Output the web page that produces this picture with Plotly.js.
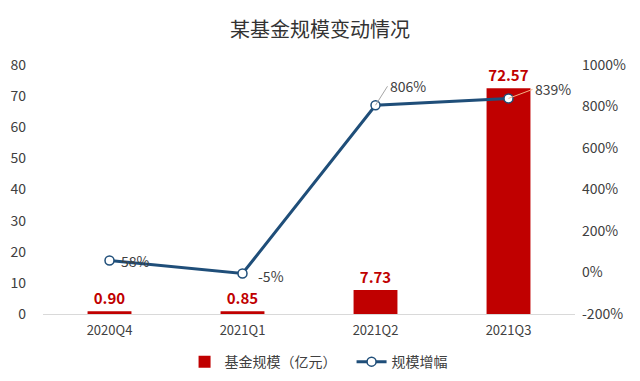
<!DOCTYPE html>
<html><head><meta charset="utf-8">
<script src="https://cdn.plot.ly/plotly-3.0.1.min.js"></script>
<style>body{margin:0;background:#fff}#c{width:640px;height:381px}</style>
</head><body><div id="c"></div>
<script>
const categories = ["2020Q4","2021Q1","2021Q2","2021Q3"];
const fundSize = [0.90, 0.85, 7.73, 72.57];
const fundSizeLabels = ["0.90","0.85","7.73","72.57"];
const growth = [58, -5, 806, 839];
const growthLabels = ["58%","-5%","806%","839%"];
const leftTicks = [0,10,20,30,40,50,60,70,80];
const rightTicks = [-200,0,200,400,600,800,1000];

const font = "'Microsoft YaHei','Noto Sans CJK SC','Noto Sans',sans-serif";

const bar = {
  type:'bar', name:'基金规模（亿元）', x:categories, y:fundSize,
  marker:{color:'#C00000'}, width:0.33,
  text:fundSizeLabels, textposition:'outside', cliponaxis:false,
  textfont:{color:'#C00000', size:15, family:font, weight:'bold'},
  hoverinfo:'none'
};
const line = {
  type:'scatter', mode:'lines+markers', name:'规模增幅', x:categories, y:growth, yaxis:'y2',
  line:{color:'#1F4E79', width:3},
  marker:{symbol:'circle', size:9, color:'#fff', line:{color:'#1F4E79', width:1.5}},
  cliponaxis:false, hoverinfo:'none'
};

const lblFont = {size:14, color:'#404040', family:font};
const layout = {
  width:640, height:381,
  margin:{l:43, r:65, t:65, b:67, autoexpand:false},
  paper_bgcolor:'#fff', plot_bgcolor:'#fff',
  font:{family:font, color:'#404040', size:13},
  title:{text:'某基金规模变动情况', x:0.5, xanchor:'center', y:0.92, yanchor:'middle',
         font:{size:20, color:'#333', family:font}},
  bargap:0.67,
  xaxis:{type:'category', showgrid:false, showline:true, linecolor:'#d9d9d9', linewidth:1,
         ticks:'', tickfont:{size:13, color:'#404040'}, ticklabelstandoff:4},
  yaxis:{range:[0,80], tickvals:leftTicks, showgrid:false, zeroline:false, showline:false,
         ticks:'', tickfont:{size:14, color:'#404040'}, ticklabelstandoff:16},
  yaxis2:{range:[-200,1000], tickvals:rightTicks, ticktext:rightTicks.map(v=>v+'%'),
          overlaying:'y', side:'right', showgrid:false, zeroline:false, showline:false,
          ticks:'', tickfont:{size:14, color:'#404040'}, ticklabelstandoff:6},
  showlegend:true,
  legend:{orientation:'h', x:0.58, xanchor:'center', y:-0.193, yanchor:'middle',
          font:{size:14, color:'#404040'}, entrywidth:122},
  annotations:[{
    x:categories[0], y:growth[0], yref:'y2', xref:'x', text:growthLabels[0],
    showarrow:false, xanchor:'left', xshift:9, yshift:-1, font:lblFont
  },{
    x:categories[1], y:growth[1], yref:'y2', xref:'x', text:growthLabels[1],
    showarrow:false, xanchor:'left', xshift:13, yshift:-2, font:lblFont
  },{
    x:categories[2], y:growth[2], yref:'y2', xref:'x', text:growthLabels[2],
    showarrow:true, arrowhead:0, arrowcolor:'#a6a6a6', arrowwidth:1,
    ax:12, ay:-19, xanchor:'left', font:lblFont
  },{
    x:categories[3], y:growth[3], yref:'y2', xref:'x', text:growthLabels[3],
    showarrow:true, arrowhead:0, arrowcolor:'#f4b183', arrowwidth:1,
    ax:24, ay:-9, xanchor:'left', font:lblFont
  }]
};
Plotly.newPlot('c',[bar,line],layout,{displayModeBar:false,staticPlot:true});
</script></body></html>
